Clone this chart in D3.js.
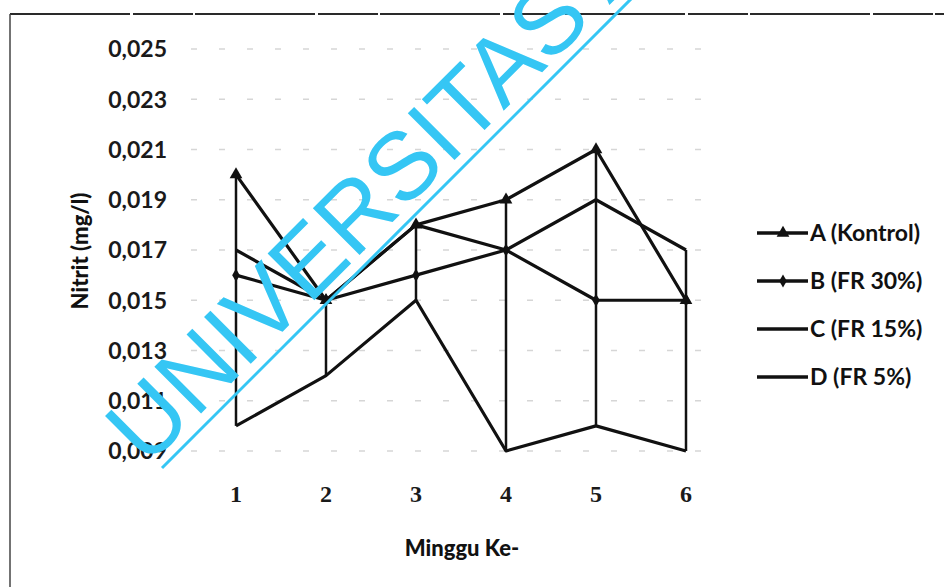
<!DOCTYPE html>
<html>
<head>
<meta charset="utf-8">
<script src="https://cdn.jsdelivr.net/npm/d3@7"></script>
<style>
  body { margin: 0; background: #fff; }
  svg { display: block; }
  .tick-y { font-family: Lato, "Open Sans", sans-serif; font-weight: 700; font-size: 23px; fill: #1a1a1a; }
  .tick-x { font-family: "Liberation Serif", serif; font-weight: 700; font-size: 24px; fill: #1a1a1a; }
  .title { font-family: Lato, "Open Sans", sans-serif; font-weight: 900; font-size: 22px; fill: #111; }
  .legend text { font-family: Lato, "Open Sans", sans-serif; font-weight: 700; font-size: 23px; fill: #111; }
  .watermark { font-family: "Liberation Sans", Arial, sans-serif; font-size: 96px; fill: #35c6f4; }
</style>
</head>
<body>
<div id="chart"></div>
<script>
// nitrit per minggu
var weeks = [1, 2, 3, 4, 5, 6];
var yTicks = [0.009, 0.011, 0.013, 0.015, 0.017, 0.019, 0.021, 0.023, 0.025];
var seriesNames = ["A (Kontrol)", "B (FR 30%)", "C (FR 15%)", "D (FR 5%)"];
var valuesA = [0.020, 0.015, 0.018, 0.019, 0.021, 0.015];
var valuesB = [0.016, 0.015, 0.016, 0.017, 0.015, 0.015];
var valuesC = [0.017, 0.015, 0.018, 0.017, 0.019, 0.017];
var valuesD = [0.010, 0.012, 0.015, 0.009, 0.010, 0.009];

!(function (d3) {

  var svg = d3.select("#chart")
      .append("svg")
      .attr("width", 944)
      .attr("height", 587);

  var margin = {top: 49, right: 213, bottom: 136, left: 191},
      width = +svg.attr("width") - margin.left - margin.right,
      height = +svg.attr("height") - margin.top - margin.bottom;

  var series = [valuesA, valuesB, valuesC, valuesD].map(function(vals, k) {
    return {
      key: seriesNames[k],
      marker: k === 0 ? d3.symbolTriangle : (k === 1 ? d3.symbolDiamond : null),
      values: vals.map(function(v, i) { return {week: weeks[i], value: v}; })
    };
  });

  // scanned page frame
  svg.append("line")
      .attr("x1", 10).attr("x2", 944).attr("y1", 14).attr("y2", 14)
      .attr("stroke", "#2a2a2a").attr("stroke-width", 2)
      .attr("stroke-dasharray", "120,3,60,2");
  svg.append("line")
      .attr("x1", 10).attr("x2", 10).attr("y1", 14).attr("y2", 587)
      .attr("stroke", "#444").attr("stroke-width", 1.5);

  var x = d3.scaleBand()
      .domain(weeks)
      .range([0, width]);

  var y = d3.scaleLinear()
      .domain([0.009, 0.025])
      .range([height, 0]);

  var g = svg.append("g")
      .attr("transform", "translate(" + margin.left + "," + margin.top + ")");

  var cx = function(w) { return x(w) + x.bandwidth() / 2; };

  // faint gridlines
  g.selectAll(".grid")
      .data(yTicks)
    .enter().append("line")
      .attr("class", "grid")
      .attr("x1", 0).attr("x2", width - 10)
      .attr("y1", function(d) { return y(d); })
      .attr("y2", function(d) { return y(d); })
      .attr("stroke", "#d6d6d6")
      .attr("stroke-width", 1.5)
      .attr("stroke-dasharray", "6,22");

  // y tick labels
  g.selectAll(".tick-y")
      .data(yTicks)
    .enter().append("text")
      .attr("class", "tick-y")
      .attr("x", -24)
      .attr("y", function(d) { return y(d); })
      .attr("dy", "0.36em")
      .attr("text-anchor", "end")
      .text(function(d) { return d3.format(".3f")(d).replace(".", ","); });

  // x tick labels
  g.selectAll(".tick-x")
      .data(weeks)
    .enter().append("text")
      .attr("class", "tick-x")
      .attr("x", function(d) { return cx(d); })
      .attr("y", height + 43)
      .attr("dy", "0.35em")
      .attr("text-anchor", "middle")
      .text(function(d) { return d; });

  // high-low lines
  g.selectAll(".hilo")
      .data(weeks)
    .enter().append("line")
      .attr("class", "hilo")
      .attr("x1", function(d) { return cx(d); })
      .attr("x2", function(d) { return cx(d); })
      .attr("y1", function(d, i) { return y(d3.max(series, function(s) { return s.values[i].value; })); })
      .attr("y2", function(d, i) { return y(d3.min(series, function(s) { return s.values[i].value; })); })
      .attr("stroke", "#111")
      .attr("stroke-width", 2.5);

  var line = d3.line()
      .x(function(d) { return cx(d.week); })
      .y(function(d) { return y(d.value); });

  var serie = g.selectAll(".serie")
      .data(series)
    .enter().append("g")
      .attr("class", "serie");

  serie.append("path")
      .attr("fill", "none")
      .attr("stroke", "#111")
      .attr("stroke-width", 3.2)
      .attr("stroke-linejoin", "round")
      .attr("d", function(d) { return line(d.values); });

  serie.filter(function(d) { return d.marker; })
    .selectAll(".marker")
      .data(function(d) { return d.values.map(function(v) { return {week: v.week, value: v.value, marker: d.marker}; }); })
    .enter().append("path")
      .attr("class", "marker")
      .attr("transform", function(d) { return "translate(" + cx(d.week) + "," + y(d.value) + ")"; })
      .attr("d", function(d) { return d3.symbol().type(d.marker).size(d.marker === d3.symbolTriangle ? 70 : 50)(); })
      .attr("fill", "#111");

  // legend
  var legend = svg.append("g")
      .attr("class", "legend")
      .attr("transform", "translate(757,233)");

  var item = legend.selectAll(".item")
      .data(series)
    .enter().append("g")
      .attr("class", "item")
      .attr("transform", function(d, i) { return "translate(0," + (i * 48) + ")"; });

  item.append("line")
      .attr("x1", 0).attr("x2", 51)
      .attr("stroke", "#111")
      .attr("stroke-width", 3.5);

  item.filter(function(d) { return d.marker; })
    .append("path")
      .attr("transform", "translate(26,0)")
      .attr("d", function(d) { return d3.symbol().type(d.marker).size(d.marker === d3.symbolTriangle ? 70 : 50)(); })
      .attr("fill", "#111");

  item.append("text")
      .attr("x", 53)
      .attr("dy", "0.35em")
      .text(function(d) { return d.key; });

  // axis titles
  svg.append("text")
      .attr("class", "title")
      .attr("transform", "translate(80,251) rotate(-90)")
      .attr("text-anchor", "middle")
      .attr("dy", "0.35em")
      .text("Nitrit (mg/l)");

  svg.append("text")
      .attr("class", "title")
      .attr("x", 462)
      .attr("y", 548)
      .attr("text-anchor", "middle")
      .attr("dy", "0.35em")
      .text("Minggu Ke-");

  // repository watermark
  var wm = svg.append("g")
      .attr("transform", "translate(162,468) rotate(-45)");
  wm.append("text")
      .attr("class", "watermark")
      .attr("x", -11)
      .attr("y", -11)
      .text("UNIVERSITAS AIRLANGGA");
  wm.append("line")
      .attr("x1", 0).attr("x2", 1000)
      .attr("stroke", "#35c6f4")
      .attr("stroke-width", 3);

})(d3);
</script>
</body>
</html>
